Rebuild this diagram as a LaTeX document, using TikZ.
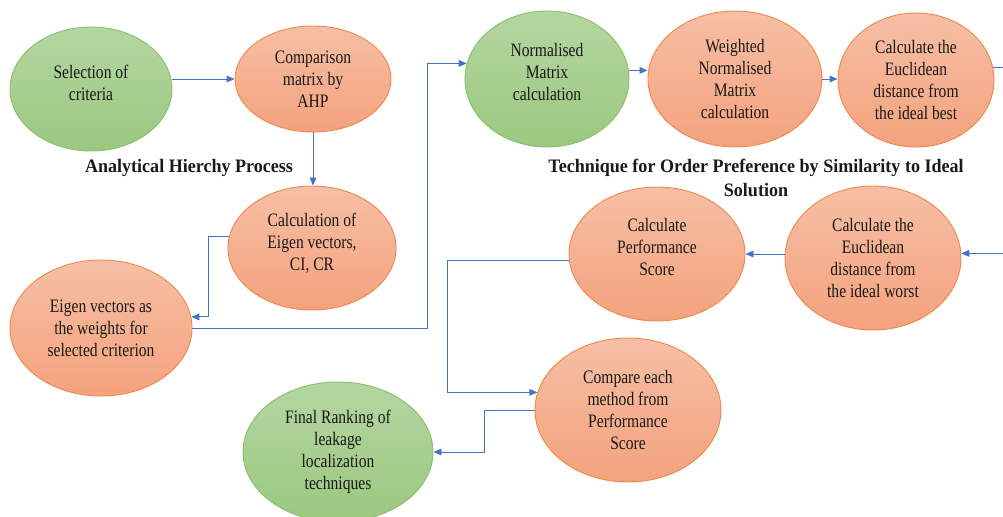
\documentclass[tikz,border=0pt]{standalone}
\usepackage{fontspec}
\setmainfont{Liberation Serif}[FakeStretch=0.82]
\newfontfamily\titlefont{Liberation Serif}[FakeStretch=0.95]
\usepackage{xcolor}
\usepackage{tikz}
\usetikzlibrary{shapes.geometric,arrows.meta,positioning}

\definecolor{leafA}{HTML}{B4D6A1}
\definecolor{leafB}{HTML}{9BC880}
\definecolor{leafLine}{HTML}{8CC06E}
\definecolor{peachA}{HTML}{F6BFA5}
\definecolor{peachB}{HTML}{F4A27D}
\definecolor{peachLine}{HTML}{EF8A4E}
\definecolor{linkblue}{HTML}{4472C4}

\begin{document}
\begin{tikzpicture}[x=0.75pt, y=-0.75pt,
    ellsize/.style 2 args={minimum width=#1*1.5pt, minimum height=#2*1.5pt},
    greenell/.style={ellipse, draw=leafLine, line width=0.7pt,
                     top color=leafA, bottom color=leafB, inner sep=0pt,
                     align=center, text=black!90,
                     font={\fontsize{14.25}{16.5}\selectfont}},
    orangeell/.style={ellipse, draw=peachLine, line width=0.7pt,
                      top color=peachA, bottom color=peachB, inner sep=0pt,
                      align=center, text=black!90,
                      font={\fontsize{14.25}{16.5}\selectfont}},
    raisedtext/.style={text depth=10pt},
    title/.style={align=center, text=black!90,
                  font={\titlefont\bfseries\fontsize{14.25}{18}\selectfont}},
    arrow/.style={-{Triangle[length=6pt,width=5pt]}, linkblue, line width=0.7pt},
    line/.style={linkblue, line width=0.7pt}
]
\useasboundingbox (0,0) rectangle (1003,517);

% AHP part
\node[greenell, raisedtext, ellsize={81}{62}] (sel) at (91,89) {Selection of\\criteria};
\node[orangeell, ellsize={78}{53}] (comp) at (313,79) {Comparison\\matrix by\\AHP};
\node[orangeell, raisedtext, ellsize={84}{62}] (calc) at (312,248) {Calculation of\\Eigen vectors,\\CI, CR};
\node[orangeell, ellsize={91}{68}] (eig) at (101,328) {Eigen vectors as\\the weights for\\selected criterion};
\node[title] (ahp) at (189,168) {Analytical Hierchy Process};

% TOPSIS part
\node[greenell, raisedtext, ellsize={82}{68}] (norm) at (547,79) {Normalised\\Matrix\\calculation};
\node[orangeell, ellsize={87}{68}] (wgt) at (735,79) {Weighted\\Normalised\\Matrix\\calculation};
\node[orangeell, ellsize={78}{67}] (best) at (916,80) {Calculate the\\Euclidean\\distance from\\the ideal best};
\node[orangeell, raisedtext, ellsize={88}{67}] (perf) at (657,254) {Calculate\\Performance\\Score};
\node[orangeell, ellsize={88}{72}] (worst) at (873,258) {Calculate the\\Euclidean\\distance from\\the ideal worst};
\node[orangeell, ellsize={93}{72}] (cmp) at (628,410) {Compare each\\method from\\Performance\\Score};
\node[greenell, ellsize={95}{70}] (rank) at (338,452) {Final Ranking of\\leakage\\localization\\techniques};
\node[title] (topsis) at (756,178) {Technique for Order Preference by Similarity to Ideal\\Solution};

% connectors
\draw[arrow] (sel.east |- comp.west) -- (comp.west);
\draw[arrow] (comp.south) -- (comp.south |- calc.north);
\draw[arrow] (calc.172) -- ++(-21,0) |- (eig.7);
\draw[arrow] (eig.east) -- ++(235,0) |- (norm.169);
\draw[arrow] (norm.6) -- (norm.6 -| wgt.west);
\draw[arrow] (wgt.east) -- (wgt.east -| best.west);
\draw[arrow] (best.9) -- ++(30,0) |- (worst.3);
\draw[arrow] (perf.east -| worst.west) -- (perf.east);
\draw[arrow] (perf.184) -- ++(-121,0) |- (cmp.169);
\draw[arrow] (cmp.west) -- ++(-50,0) |- (rank.east);
\end{tikzpicture}
\end{document}
